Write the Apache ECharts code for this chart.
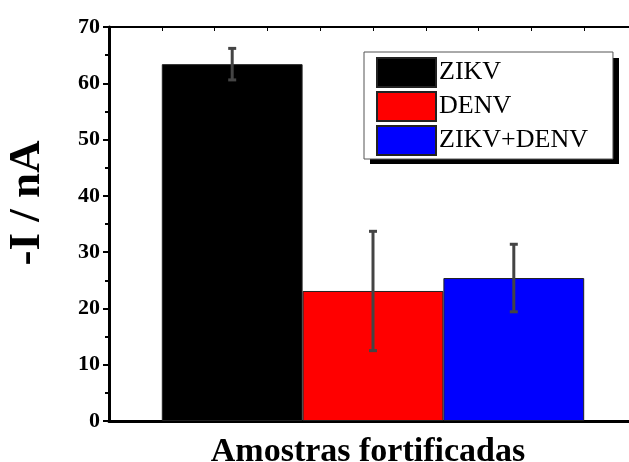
<!DOCTYPE html>
<html>
<head>
<meta charset="utf-8">
<script src="https://cdn.jsdelivr.net/npm/echarts@6/dist/echarts.min.js"></script>
<style>
  html, body { margin: 0; padding: 0; background: #fff; }
  #pic1 { width: 629px; height: 462px; }
</style>
</head>
<body>
<div id="pic1"></div>
<script>
var categories = ['Amostras fortificadas'];
var seriesNames = ['ZIKV', 'DENV', 'ZIKV+DENV'];
var seriesColors = ['#000000', '#ff0000', '#0000ff'];
var means = [63.4, 23.1, 25.4];
var errors = [2.8, 10.6, 6.0];
var yTicks = [0, 10, 20, 30, 40, 50, 60, 70];

var serif = 'Liberation Serif';

var chart = function () {
    var myChart = echarts.init(document.getElementById('pic1'));

    var series = [];
    seriesNames.forEach(function (name, i) {
        series.push({
            name: name,
            type: 'bar',
            xAxisIndex: 0,
            yAxisIndex: 0,
            barGap: 0,
            barCategoryGap: '20%',
            data: [means[i]],
            itemStyle: {
                color: seriesColors[i],
                borderColor: '#222',
                borderWidth: 1
            },
            z: 2
        });
    });

    // error bars, offset to sit on the middle of each bar
    series.push({
        type: 'custom',
        xAxisIndex: 0,
        yAxisIndex: 0,
        z: 5,
        silent: true,
        data: means.map(function (m, i) {
            return [0, m - errors[i], m + errors[i], i];
        }),
        renderItem: function (params, api) {
            var band = api.size([1, 0])[0];
            var barW = band * 0.8 / seriesNames.length;
            var k = api.value(3);
            var dx = (k - (seriesNames.length - 1) / 2) * barW;
            var lo = api.coord([api.value(0), api.value(1)]);
            var hi = api.coord([api.value(0), api.value(2)]);
            var x = lo[0] + dx;
            var cap = 4;
            var st = { stroke: '#444', lineWidth: 3 };
            return {
                type: 'group',
                children: [
                    { type: 'line', shape: { x1: x, y1: lo[1], x2: x, y2: hi[1] }, style: st },
                    { type: 'line', shape: { x1: x - cap, y1: lo[1], x2: x + cap, y2: lo[1] }, style: st },
                    { type: 'line', shape: { x1: x - cap, y1: hi[1], x2: x + cap, y2: hi[1] }, style: st }
                ]
            };
        }
    });

    var option = {
        backgroundColor: '#fff',
        animation: false,
        grid: {
            left: 109,
            right: -8,
            top: 27,
            bottom: 41,
            containLabel: false,
            outerBoundsMode: 'none'
        },
        // drop shadow behind the legend box
        graphic: [{
            type: 'rect',
            left: 370,
            top: 58,
            shape: { width: 249, height: 106 },
            style: { fill: '#000' },
            z: 90
        }],
        legend: {
            orient: 'vertical',
            left: 364,
            top: 52,
            data: seriesNames,
            icon: 'rect',
            itemWidth: 59,
            itemHeight: 29,
            itemGap: 3,
            padding: [5, 25, 3, 12],
            backgroundColor: '#fff',
            borderColor: '#555',
            borderWidth: 1,
            selectedMode: false,
            z: 100,
            textStyle: {
                fontFamily: serif,
                fontSize: 26,
                color: '#000',
                padding: [0, 0, 0, -2]
            }
        },
        xAxis: [
            {
                type: 'category',
                data: categories,
                position: 'bottom',
                name: 'Amostras fortificadas',
                nameLocation: 'middle',
                nameGap: 14,
                nameTextStyle: {
                    fontFamily: serif,
                    fontWeight: 'bold',
                    fontSize: 34,
                    color: '#000',
                    padding: [0, 10, 0, 0]
                },
                axisLine: { lineStyle: { color: '#000', width: 3 } },
                axisTick: { alignWithLabel: true, length: 6, lineStyle: { color: '#000', width: 2 } },
                axisLabel: { show: false },
                splitLine: { show: false }
            },
            {
                type: 'value',
                position: 'top',
                min: 0,
                max: 10,
                interval: 1,
                axisLine: { show: true, lineStyle: { color: '#000', width: 2 } },
                axisTick: { show: true, inside: true, length: 4, lineStyle: { color: '#000', width: 1 } },
                axisLabel: { show: false },
                splitLine: { show: false }
            }
        ],
        yAxis: {
            type: 'value',
            min: yTicks[0],
            max: yTicks[yTicks.length - 1],
            interval: 10,
            name: '-I / nA',
            nameLocation: 'middle',
            nameGap: 59,
            nameTextStyle: {
                fontFamily: serif,
                fontWeight: 'bold',
                fontSize: 45,
                color: '#000',
                padding: [0, 0, 0, 42]
            },
            axisLine: { show: true, lineStyle: { color: '#000', width: 3 } },
            axisTick: { show: true, length: 6, lineStyle: { color: '#000', width: 2 } },
            minorTick: { show: true, splitNumber: 2, length: 4, lineStyle: { color: '#000', width: 2 } },
            axisLabel: {
                fontFamily: serif,
                fontWeight: 'bold',
                fontSize: 22,
                color: '#000',
                margin: 9
            },
            splitLine: { show: false }
        },
        series: series
    };

    myChart.setOption(option);
    return myChart;
};
chart();
</script>
</body>
</html>
